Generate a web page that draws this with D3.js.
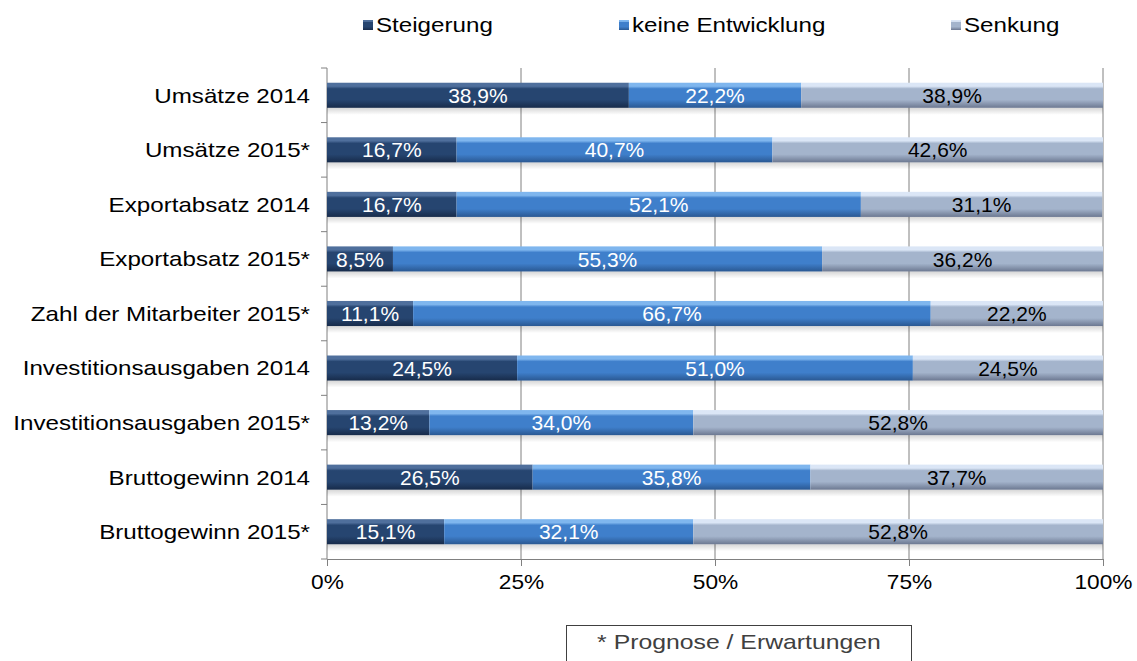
<!DOCTYPE html>
<html><head><meta charset="utf-8">
<script src="https://cdn.jsdelivr.net/npm/d3@7"></script>
<style>body{margin:0;background:#fff;font-family:"Liberation Sans",Arial,sans-serif;}</style>
</head><body>
<svg id="c" width="1137" height="661"></svg>
<script>
const categories = ["Umsätze 2014","Umsätze 2015*","Exportabsatz 2014","Exportabsatz 2015*","Zahl der Mitarbeiter 2015*","Investitionsausgaben 2014","Investitionsausgaben 2015*","Bruttogewinn 2014","Bruttogewinn 2015*"];
const seriesNames = ["Steigerung","keine Entwicklung","Senkung"];
const steigerung = [38.9,16.7,16.7,8.5,11.1,24.5,13.2,26.5,15.1];
const keineEntwicklung = [22.2,40.7,52.1,55.3,66.7,51.0,34.0,35.8,32.1];
const senkung = [38.9,42.6,31.1,36.2,22.2,24.5,52.8,37.7,52.8];
const xTicks = [0,25,50,75,100];
const footnote = "* Prognose / Erwartungen";

const svg = d3.select("#c");
const m = {l:327, r:1103, t:68, b:559};
const x = d3.scaleLinear().domain([0,100]).range([m.l, m.r]);
const y = d3.scaleBand().domain(categories).range([m.t, m.b]).paddingInner(0.54).paddingOuter(0.27);
const FS = 21;
function stretch(k){
  return sel => sel.each(function(){
    const w = this.getComputedTextLength();
    d3.select(this).attr("textLength", w*k).attr("lengthAdjust","spacingAndGlyphs");
  });
}

const colors = [
  {top:"#4f6f9c", mid:"#264570", bot:"#172b4a", text:"#fff"},
  {top:"#7fb6ee", mid:"#3f7fcb", bot:"#2a5892", text:"#fff"},
  {top:"#dbe6f6", mid:"#a4b4cc", bot:"#6c7891", text:"#000"}
];
const defs = svg.append("defs");
colors.forEach((c,i)=>{
  const g = defs.append("linearGradient").attr("id","g"+i).attr("x1",0).attr("x2",0).attr("y1",0).attr("y2",1);
  g.append("stop").attr("offset","0%").attr("stop-color",c.top);
  g.append("stop").attr("offset","14%").attr("stop-color",c.top);
  g.append("stop").attr("offset","24%").attr("stop-color",c.mid);
  g.append("stop").attr("offset","68%").attr("stop-color",c.mid);
  g.append("stop").attr("offset","100%").attr("stop-color",c.bot);
});
const sh = defs.append("linearGradient").attr("id","sh").attr("x1",0).attr("x2",0).attr("y1",0).attr("y2",1);
sh.append("stop").attr("offset","0%").attr("stop-color","#000").attr("stop-opacity",0.16);
sh.append("stop").attr("offset","100%").attr("stop-color","#000").attr("stop-opacity",0);

// gridlines
svg.append("g").selectAll("line").data(xTicks.slice(1)).join("line")
  .attr("x1",d=>x(d)).attr("x2",d=>x(d)).attr("y1",m.t).attr("y2",m.b)
  .attr("stroke","#808080").attr("stroke-width",1);

// x axis
const xa = svg.append("g").attr("transform",`translate(0,${m.b})`)
  .call(d3.axisBottom(x).tickValues(xTicks).tickFormat(d=>d+"%").tickSize(7).tickSizeOuter(0));
xa.select(".domain").attr("stroke","#808080");
xa.selectAll(".tick line").attr("stroke","#808080");
xa.selectAll("text").attr("font-size",FS).attr("fill","#000").attr("y",23).attr("dy","0.35em").attr("font-family","Liberation Sans, Arial, sans-serif").call(stretch(1.08));

// y axis
const ya = svg.append("g").attr("transform",`translate(${m.l},0)`);
ya.append("line").attr("x1",0).attr("x2",0).attr("y1",m.t).attr("y2",m.b).attr("stroke","#808080");
const bounds = d3.range(categories.length+1).map(i=>m.t + (m.b-m.t)*i/categories.length);
ya.selectAll("line.t").data(bounds).join("line").attr("class","t")
  .attr("x1",-6).attr("x2",0).attr("y1",d=>d).attr("y2",d=>d).attr("stroke","#808080");
ya.selectAll("text").data(categories).join("text")
  .attr("x",-17).attr("y",d=>y(d)+y.bandwidth()/2).attr("dy","0.35em")
  .attr("text-anchor","end").attr("font-size",FS).attr("fill","#000").text(d=>d).call(stretch(1.15));

// stacks
const rows = categories.map((c,i)=>({cat:c, s0:steigerung[i], s1:keineEntwicklung[i], s2:senkung[i]}));
const stack = d3.stack().keys(["s0","s1","s2"])(rows);

// shadows
svg.append("g").selectAll("rect").data(rows).join("rect")
  .attr("x",m.l).attr("width",d=>x(d.s0+d.s1+d.s2)-m.l)
  .attr("y",d=>y(d.cat)+y.bandwidth()).attr("height",7).attr("fill","url(#sh)");

stack.forEach((layer,i)=>{
  const g = svg.append("g");
  g.selectAll("rect").data(layer).join("rect")
    .attr("x",d=>x(d[0])).attr("width",d=>x(d[1])-x(d[0]))
    .attr("y",d=>y(d.data.cat)).attr("height",y.bandwidth())
    .attr("fill",`url(#g${i})`);
  g.selectAll("text").data(layer).join("text")
    .attr("x",d=>(x(d[0])+x(d[1]))/2).attr("y",d=>y(d.data.cat)+y.bandwidth()/2).attr("dy","0.36em")
    .attr("text-anchor","middle").attr("font-size",FS).attr("fill",colors[i].text)
    .text(d=>d3.format(".1f")(d[1]-d[0]).replace(".",",")+"%").call(stretch(1.0));
});

// legend
const lx = [363, 619, 951];
const lg = svg.append("g");
seriesNames.forEach((n,i)=>{
  lg.append("rect").attr("x",lx[i]).attr("y",20).attr("width",10).attr("height",10).attr("fill",`url(#g${i})`);
  lg.append("text").attr("x",lx[i]+13).attr("y",25).attr("dy","0.35em").attr("font-size",FS).attr("fill","#000").text(n).call(stretch(1.15));
});

// footnote box
svg.append("rect").attr("x",566.5).attr("y",625.5).attr("width",345).attr("height",50).attr("fill","#fff").attr("stroke","#404040");
svg.append("text").attr("x",739).attr("y",642).attr("dy","0.35em").attr("text-anchor","middle").attr("font-size",FS).attr("fill","#404040").text(footnote).call(stretch(1.18));
</script>
</body></html>
